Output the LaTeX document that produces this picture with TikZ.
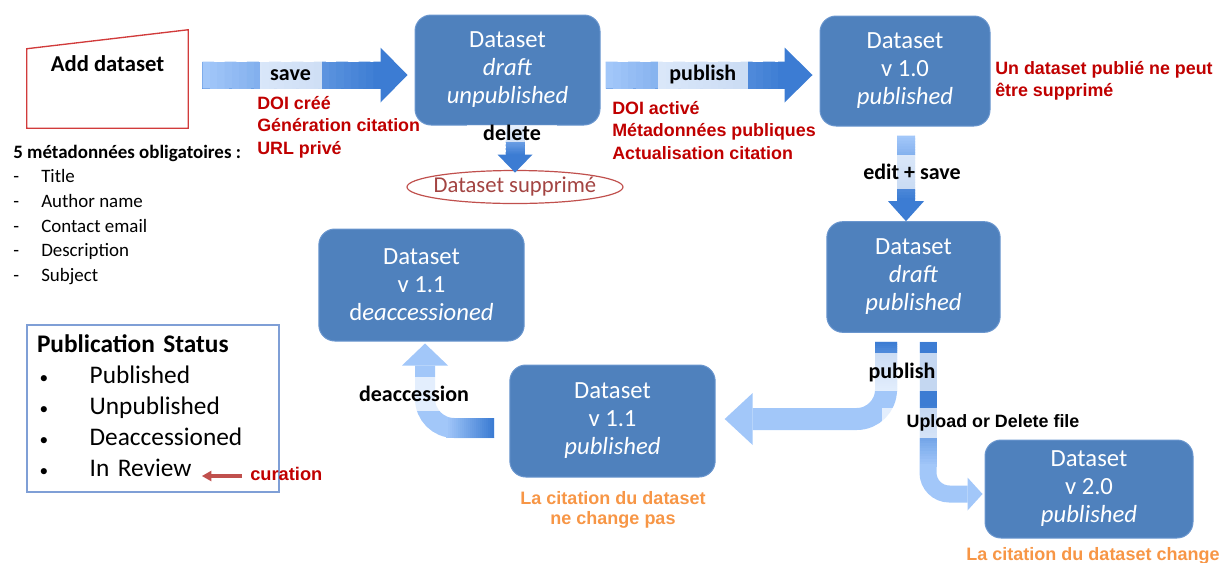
\documentclass[tikz,border=0pt]{standalone}
\usepackage{fontspec}
\setmainfont{Carlito}
\newfontfamily\arialfont{Liberation Sans}
\usetikzlibrary{positioning, calc, arrows.meta, shapes.geometric}

\definecolor{boxblue}{HTML}{4F81BD}
\definecolor{boxline}{HTML}{6A96CE}
\definecolor{alight}{HTML}{A2C7F9}
\definecolor{adark}{HTML}{3C7CD3}
\definecolor{notered}{HTML}{C00000}
\definecolor{noteorange}{HTML}{F79646}
\definecolor{delred}{HTML}{C0504D}
\definecolor{addred}{HTML}{D13B3B}
\definecolor{statline}{HTML}{7F9FD6}

% shaded shaft: from, to, width, start colour, end colour
\newcommand{\gradline}[5]{%
  \foreach \k [evaluate=\k as \a using \k/24,
               evaluate=\k as \b using {min((\k+1.6)/24,1)},
               evaluate=\k as \p using int(\k*100/23)] in {0,...,23}
    \draw [line width=#3, #5!\p!#4] ($(#1)!\a!(#2)$) -- ($(#1)!\b!(#2)$);}

\newcommand{\smallbullet}{{\fontsize{13}{13}\selectfont\textbullet}}

\begin{document}
\begin{tikzpicture}[x=0.75pt, y=-0.75pt,
  dsbox/.style={rectangle, rounded corners=12pt, fill=boxblue, draw=boxline,
    line width=0.75pt, text=white, align=center, inner sep=0pt,
    minimum height=82.5pt, font=\fontsize{18.5}{21}\selectfont},
  band/.style={fill=white, fill opacity=0.7, text opacity=1, inner sep=0pt,
    font=\fontsize{16.5}{19}\selectfont\bfseries},
  note/.style={font=\arialfont\bfseries\fontsize{13.4}{16.9}\selectfont,
    text=notered, align=left, inner sep=0pt, anchor=north west},
  orangenote/.style={font=\arialfont\bfseries\fontsize{13.5}{15.5}\selectfont,
    text=noteorange, align=center, inner sep=0pt, anchor=north},
  fatarrow/.style n args={3}{line width=#1,
    -{Triangle[width=#2, length=#3, line width=0pt]}},
  fatshaft/.style={line width=#1}]

  \useasboundingbox (0,0) rectangle (1223,562);

  % nodes
  \node [font=\fontsize{17}{20}\selectfont\bfseries, minimum width=120.75pt,
         text height=30.75pt, text depth=42.75pt, inner sep=0pt] (add)
        at (107.5,79) {Add dataset};
  \draw [addred, line width=1pt] (add.south west) -- (add.south east)
        -- (add.north east) -- ([yshift=-14.25pt]add.north west) -- cycle;

  \node [dsbox, minimum width=138.75pt] (draft) at (507.5,70)
        {Dataset\\ \textit{draft}\\ \textit{unpublished}};
  \node [dsbox, minimum width=127.5pt] (v10) at (905,71)
        {Dataset\\ v 1.0\\ \textit{published}};
  \node [dsbox, minimum width=130pt, minimum height=83pt] (dpub) at (913.5,277)
        {Dataset\\ \textit{draft}\\ \textit{published}};
  \node [dsbox, minimum width=154pt, minimum height=84pt] (v11d) at (421.5,285)
        {Dataset\\ v 1.1\\ d\textit{eaccessioned}};
  \node [dsbox, minimum width=154pt, minimum height=84pt] (v11) at (612.5,421)
        {Dataset\\ v 1.1\\ \textit{published}};
  \node [dsbox, minimum width=156pt, minimum height=73.5pt] (v20) at (1089,489)
        {Dataset\\ v 2.0\\ \textit{published}};

  \node [ellipse, draw=delred, line width=0.9pt, text=delred!85!black,
         font=\fontsize{17}{20}\selectfont, inner xsep=-5pt, inner ysep=0pt,
         minimum width=162pt, minimum height=24.75pt] (supp) at (515,187)
        {Dataset supprimé};

  % notes
  \node [note] (savenote) at (257,96)
        {DOI créé\\ Génération citation\\ URL privé};
  \node [note] (pubnote) at (612,101)
        {DOI activé\\ Métadonnées publiques\\ Actualisation citation};
  \node [note, font=\arialfont\bfseries\fontsize{13.4}{16.5}\selectfont] (v10note)
        at (995,61) {Un dataset publié ne peut\\ être supprimé};
  \node [orangenote] (v11note) at (613,491) {La citation du dataset\\ ne change pas};
  \node [orangenote] (v20note) at (1093,547) {La citation du dataset change};

  \node [anchor=north west, inner sep=0pt, font=\fontsize{14.2}{18.4}\selectfont]
        (meta) at (13,141)
        {\begin{tabular}{@{}p{21pt}@{}l@{}}
           \multicolumn{2}{@{}l@{}}{\bfseries 5 métadonnées obligatoires :}\\
           - & Title\\
           - & Author name\\
           - & Contact email\\
           - & Description\\
           - & Subject
         \end{tabular}};

  \node [draw=statline, line width=0.8pt, minimum width=189pt,
         minimum height=125.25pt, text width=174pt, inner xsep=7.5pt,
         align=left, font=\fontsize{19}{23.25}\selectfont] (status) at (153,408.5)
        {\begin{tabular}{@{}p{39.5pt}@{}l@{}}
           \multicolumn{2}{@{}l@{}}{\bfseries Publication Status}\\
           \hspace{2pt}\smallbullet & Published\\
           \hspace{2pt}\smallbullet & Unpublished\\
           \hspace{2pt}\smallbullet & Deaccessioned\\
           \hspace{2pt}\smallbullet & In Review
         \end{tabular}};

  \node [font=\arialfont\bfseries\fontsize{13.7}{16}\selectfont, text=notered,
         anchor=west, inner sep=0pt] (curlbl) at (250,474) {curation};
  \coordinate (inreview) at (202,476);
  \draw [delred, line width=2.5pt, -{Triangle[length=7pt, width=8pt, line width=0pt]}]
        ($(curlbl.west |- inreview)+(-8,0)$) -- (inreview);

  % edges
  \coordinate (savefrom) at ($(add.east)+(14,-4)$);
  \coordinate (saveto) at ($(draft.west)+(-7,5)$);
  \coordinate (savehead) at ($(savefrom)!0.87!(saveto)$);
  \draw [fatarrow={20.25pt}{41.25pt}{20.25pt}, adark] (savefrom) -- (saveto);
  \gradline{savefrom}{savehead}{20.25pt}{alight}{adark}
  \path (savefrom) -- node [band, pos=0.43, minimum width=46.5pt, minimum height=23pt]
        (savelbl) {save} (saveto);

  \coordinate (pubfrom) at ($(draft.east)+(5,5)$);
  \coordinate (pubto) at ($(v10.west)+(-7,4)$);
  \coordinate (pubhead) at ($(pubfrom)!0.87!(pubto)$);
  \draw [fatarrow={20.25pt}{41.25pt}{21pt}, adark] (pubfrom) -- (pubto);
  \gradline{pubfrom}{pubhead}{20.25pt}{alight}{adark}
  \path (pubfrom) -- node [band, pos=0.47, minimum width=67.5pt, minimum height=21pt]
        (publbl) {publish} (pubto);

  \coordinate (delfrom) at (draft.south -| supp.north);
  \coordinate (delhead) at ($(delfrom)+(0,30)$);
  \draw [fatarrow={14.25pt}{26.25pt}{13.5pt}, adark]
        (delfrom) -- ([yshift=-2pt]supp.north);
  \gradline{delfrom}{delhead}{14.25pt}{alight}{adark}
  \node [band, minimum width=67pt, minimum height=12.75pt] (dellbl) at (512,133) {delete};

  \coordinate (editfrom) at ($(v10.south)+(1,9)$);
  \coordinate (edithead) at ($(editfrom)+(0,65)$);
  \draw [fatarrow={13.5pt}{27pt}{15pt}, adark] (editfrom) -- (editfrom |- dpub.north);
  \gradline{editfrom}{edithead}{13.5pt}{alight}{adark}
  \node [band, minimum width=109pt, minimum height=26pt] (editlbl) at (912,172)
        {edit + save};

  \coordinate (publeft) at ($(dpub.south)+(-27.5,9)$);
  \coordinate (publeftbend) at ($(publeft)+(0,50)$);
  \draw [fatarrow={16.5pt}{39pt}{21pt}, alight, rounded corners=22pt]
        (publeft) |- ($(v11.east)+(9,-2)$);
  \gradline{publeft}{publeftbend}{16.5pt}{adark}{alight}

  \coordinate (upfrom) at ($(dpub.south)+(14.5,9)$);
  \coordinate (upmid) at ($(upfrom)+(0,62)$);
  \coordinate (upbend) at ($(upfrom)+(0,125)$);
  \draw [fatarrow={12.75pt}{24.75pt}{11.25pt}, alight, rounded corners=16pt]
        (upfrom) |- ($(v20.west)+(-2,5)$);
  \draw [fatshaft=12.75pt, adark] (upfrom) -- (upmid);
  \gradline{upmid}{upbend}{12.75pt}{adark}{alight}

  \node [band, minimum width=67.5pt, minimum height=29pt] (pub2lbl) at (902,372)
        {publish};
  \node [band, font=\arialfont\bfseries\fontsize{13.4}{16}\selectfont,
         minimum width=166pt, minimum height=22.5pt] (uplbl) at (993,423)
        {Upload or Delete file};

  \coordinate (deacfrom) at ($(v11.west)+(-15,7)$);
  \coordinate (deacbend) at ($(deacfrom)+(-48,0)$);
  \draw [fatarrow={15pt}{34.5pt}{16.5pt}, alight, rounded corners=22pt]
        (deacfrom) -| ($(v11d.south)+(3.5,2)$);
  \gradline{deacfrom}{deacbend}{15pt}{adark}{alight}
  \node [band, minimum width=101pt, minimum height=26pt] (deaclbl) at (414,394)
        {deaccession};
\end{tikzpicture}
\end{document}
